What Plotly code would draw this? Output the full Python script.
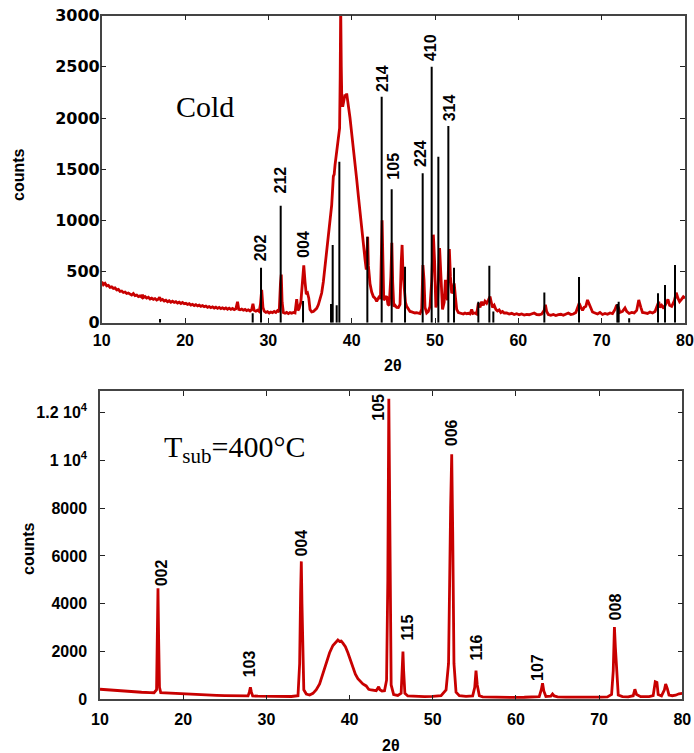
import plotly.graph_objects as go

# ---------------- data: top panel (Cold) ----------------
cold_2theta = [10.0,10.2,10.4,10.6,10.8,11.0,11.2,11.4,11.6,11.8,12.0,12.2,12.4,12.6,12.8,13.0,13.2,13.4,13.6,13.8,
    14.0,14.2,14.4,14.6,14.8,14.9,15.0,15.2,15.4,15.6,15.8,16.0,16.2,16.4,16.6,16.8,16.95,17.1,17.3,17.5,17.7,17.9,
    18.1,18.3,18.5,18.7,18.9,19.1,19.3,19.5,19.7,19.9,20.1,20.3,20.5,20.7,20.9,21.1,21.3,21.5,21.7,21.9,22.1,22.3,
    22.5,22.7,22.9,23.1,23.3,23.5,23.7,23.9,24.1,24.3,24.5,24.7,24.9,25.1,25.3,25.5,25.7,25.9,26.1,26.3,26.45,26.6,
    26.8,27.0,27.2,27.4,27.6,27.8,28.0,28.15,28.3,28.5,28.7,28.9,29.05,29.2,29.35,29.5,29.7,29.9,30.1,30.3,30.5,30.7,
    30.9,31.1,31.3,31.45,31.55,31.65,31.8,32.0,32.2,32.4,32.6,32.8,33.0,33.2,33.4,33.55,33.7,33.9,34.1,34.25,34.4,
    34.55,34.7,34.85,35.0,35.2,35.4,35.6,35.8,36.0,36.2,36.4,36.6,36.8,37.0,37.2,37.4,37.6,37.8,37.9,38.0,38.2,38.4,
    38.55,38.62,38.68,38.75,38.82,38.92,39.05,39.2,39.3,39.4,39.5,39.65,39.8,40.0,40.2,40.4,40.6,40.8,41.0,41.2,41.4,
    41.6,41.75,41.85,41.92,42.0,42.1,42.2,42.4,42.6,42.8,43.0,43.2,43.35,43.45,43.55,43.65,43.75,43.85,44.0,44.2,
    44.35,44.5,44.7,44.82,44.92,45.05,45.2,45.4,45.6,45.8,45.95,46.05,46.15,46.3,46.45,46.6,46.8,47.0,47.2,47.4,
    47.6,47.8,48.0,48.2,48.4,48.55,48.68,48.8,49.0,49.2,49.4,49.6,49.8,49.95,50.1,50.3,50.55,50.7,50.9,51.1,51.25,
    51.4,51.5,51.6,51.72,51.85,52.0,52.15,52.3,52.45,52.6,52.8,53.0,53.2,53.4,53.6,53.8,54.0,54.2,54.4,54.55,54.8,
    55.0,55.2,55.4,55.6,55.8,56.0,56.2,56.4,56.6,56.75,56.9,57.1,57.3,57.5,57.7,57.9,58.1,58.3,58.6,58.9,59.2,59.5,
    59.8,60.1,60.4,60.7,61.0,61.3,61.6,61.9,62.2,62.5,62.8,63.1,63.25,63.4,63.6,63.9,64.2,64.5,64.8,65.1,65.4,65.7,
    66.0,66.3,66.6,66.9,67.1,67.3,67.5,67.7,67.9,68.1,68.3,68.5,68.7,68.9,69.2,69.5,69.8,70.1,70.4,70.7,71.0,71.3,
    71.6,71.8,72.0,72.2,72.5,72.8,73.0,73.3,73.6,73.9,74.2,74.45,74.7,74.9,75.2,75.5,75.8,76.1,76.4,76.6,76.85,77.0,
    77.2,77.45,77.7,77.95,78.15,78.4,78.7,78.95,79.15,79.35,79.6,79.8,80.0]
cold_counts = [400,370,385,360,365,345,350,335,340,320,325,305,310,295,300,285,290,280,270,285,
    265,270,255,262,250,275,245,255,240,248,232,240,228,236,222,230,248,220,228,212,220,205,
    215,200,210,198,205,192,200,188,198,185,190,178,186,172,180,168,176,165,172,160,168,156,
    163,150,158,147,155,143,152,140,150,138,146,135,144,132,142,130,140,128,136,205,130,126,
    133,122,130,118,126,115,128,185,120,112,122,110,180,320,150,112,100,108,95,105,98,110,
    100,118,105,380,470,200,100,92,100,88,98,92,100,95,230,120,140,200,420,560,400,
    280,290,240,130,105,110,125,140,175,230,290,400,545,680,820,940,1150,1430,1450,1540,1660,1760,
    1900,2400,3100,2500,2150,2110,2180,2230,2200,2240,2180,2100,2000,1850,1720,1560,1400,1240,1070,920,780,
    620,520,700,840,560,420,380,300,255,240,210,240,260,230,500,1000,600,220,240,260,
    180,170,450,780,400,160,170,150,148,180,600,760,500,320,200,160,130,110,105,100,
    95,98,95,90,130,564,420,150,95,110,160,400,860,600,150,200,730,450,130,200,420,
    250,220,500,720,450,290,300,385,250,130,100,95,92,85,95,88,92,85,130,90,95,
    85,190,150,205,170,210,190,220,255,200,150,170,130,115,125,100,110,95,95,85,92,80,
    88,78,85,75,82,78,88,95,80,78,85,120,175,110,80,72,80,70,78,82,72,80,
    95,80,85,100,150,190,150,120,150,160,222,180,130,105,95,85,100,80,90,82,95,88,
    130,173,150,100,110,144,110,90,100,95,120,222,150,100,95,90,105,95,110,150,205,150,
    170,140,190,229,170,160,210,293,240,205,230,254,240]

# reference (stick) pattern, top panel
ref_2theta = [17.0,28.12,29.12,31.48,34.16,37.52,37.72,38.2,38.52,41.88,43.6,44.8,46.4,48.52,49.6,50.4,51.6,52.28,
              55.2,56.52,57.0,63.12,67.28,71.88,72.04,73.3,76.76,77.6,78.8]
ref_counts = [35,92,537,1143,212,183,760,170,1573,840,2209,1303,547,1460,2502,1622,1922,537,
              205,557,110,295,447,183,205,43,287,368,564]

cold_hkl = ["202","212","004","214","105","224","410","314"]
cold_hkl_x = [29.0,31.4,34.3,43.72,45.08,48.28,49.48,51.68]
cold_hkl_y = [727,1390,762,2388,1525,1655,2690,2095]

# ---------------- data: bottom panel (Tsub=400°C) ----------------
hot_2theta = [10.0,11,12,13,14,15,16,16.5,16.8,16.9,16.97,17.05,17.15,17.3,18,19,20,21,22,23,24,25,26,27,27.8,27.95,
    28.08,28.2,28.35,29,30,31,32,33,33.8,34.0,34.12,34.2,34.28,34.38,34.5,34.8,35.2,35.6,36.0,36.4,36.8,37.2,37.6,
    38.0,38.4,38.6,38.8,39.0,39.2,39.5,39.8,40.1,40.4,40.7,41.0,41.3,41.6,42.0,42.3,42.6,42.9,43.2,43.5,43.65,43.9,
    44.2,44.45,44.6,44.72,44.8,44.9,45.0,45.3,45.8,46.2,46.35,46.42,46.5,46.65,47,48,49,50,51,51.6,51.9,52.15,52.28,
    52.4,52.55,52.8,53.2,54,54.8,55.05,55.2,55.35,55.6,56,57,58,59,60,61,62,62.8,63.05,63.2,63.35,63.6,64.2,64.4,
    64.6,65,66,67,68,69,70,71,71.5,71.7,71.84,71.95,72.05,72.15,72.3,72.8,73.5,74.1,74.3,74.5,75,76,76.5,76.75,
    76.95,77.1,77.5,77.85,78.0,78.2,78.4,78.8,79.2,79.6,80.0]
hot_counts = [420,390,360,335,315,295,280,275,400,2500,4650,2500,500,280,265,250,225,210,195,180,165,155,145,140,145,300,
    500,300,140,130,120,118,115,118,150,1500,4500,5770,4000,1200,400,220,180,250,400,640,1050,1500,1950,
    2250,2400,2480,2420,2440,2350,2200,1950,1650,1350,1050,860,730,640,560,420,390,370,360,520,400,350,
    360,800,5000,12580,8000,2000,600,200,160,250,1500,2000,1200,250,140,110,110,120,150,390,1500,8000,10250,
    7000,1500,300,150,120,140,500,1200,600,150,100,90,85,80,80,85,90,110,400,670,350,120,130,220,
    140,100,90,85,85,85,90,100,200,1200,3020,2200,1650,700,180,110,100,150,420,200,110,110,150,730,
    700,200,140,400,640,450,180,150,170,230,250]

hot_hkl = ["002","103","004","105","115","006","116","107","008"]
hot_hkl_x = [17.4,28.08,34.28,43.52,46.92,52.28,55.2,62.6,71.92]
hot_hkl_y = [5296,1480,6555,12235,3010,11165,2172,1333,3849]

x_ticks = [10,20,30,40,50,60,70,80]
top_y_ticks = [0,500,1000,1500,2000,2500,3000]
bot_y_ticks = [0,2000,4000,6000,8000,10000,12000]
bot_y_text = ["0","2000","4000","6000","8000","1 10<sup>4</sup>","1.2 10<sup>4</sup>"]

RED = "#c80000"
W, H = 694, 753

# stick segments
sx, sy = [], []
for xv, hv in zip(ref_2theta, ref_counts):
    sx += [xv, xv, None]
    sy += [0, hv, None]

fig = go.Figure()
fig.add_trace(go.Scatter(x=cold_2theta, y=cold_counts, mode="lines", line=dict(color=RED, width=2.8),
                         xaxis="x", yaxis="y", showlegend=False, hoverinfo="skip"))
fig.add_trace(go.Scatter(x=sx, y=sy, mode="lines", line=dict(color="black", width=2),
                         xaxis="x", yaxis="y", showlegend=False, hoverinfo="skip"))
fig.add_trace(go.Scatter(x=hot_2theta, y=hot_counts, mode="lines", line=dict(color=RED, width=2.8),
                         xaxis="x2", yaxis="y2", showlegend=False, hoverinfo="skip"))

axis_common = dict(showline=True, linecolor="#444", linewidth=1.5, mirror="ticks", ticks="inside",
                   ticklen=5, tickwidth=1.2, tickcolor="#222", showgrid=False, zeroline=False,
                   automargin=False)
label_font = dict(family="Liberation Sans, Arial", size=16, color="black", weight="bold")

def px2x(p):
    return p / W

def px2y(p):
    return 1 - p / H

fig.update_layout(
    width=W, height=H, margin=dict(l=0, r=0, t=0, b=0, autoexpand=False),
    plot_bgcolor="white", paper_bgcolor="white",
    xaxis=dict(domain=[px2x(101.7), px2x(685)], range=[10, 80], tickvals=x_ticks, anchor="y",
               tickfont=label_font, ticklabelstandoff=2, **axis_common),
    yaxis=dict(domain=[px2y(322.7), px2y(15.7)], range=[0, 3000], tickvals=top_y_ticks, anchor="x",
               tickfont=dict(family="DejaVu Sans", size=16, color="black", weight="bold"),
               ticklabelstandoff=-3, **axis_common),
    xaxis2=dict(domain=[px2x(100), px2x(682.3)], range=[10, 80], tickvals=x_ticks, anchor="y2",
                tickfont=label_font, ticklabelstandoff=5, **axis_common),
    yaxis2=dict(domain=[px2y(699.3), px2y(391)], range=[0, 12900], tickvals=bot_y_ticks, ticktext=bot_y_text,
                anchor="x2", tickfont=label_font, ticklabelstandoff=8, **axis_common),
)

ann = []
for t, xv, yv in zip(cold_hkl, cold_hkl_x, cold_hkl_y):
    ann.append(dict(text=t, x=xv, y=yv, xref="x", yref="y", textangle=-90, showarrow=False,
                    xanchor="center", yanchor="middle", font=label_font))
for t, xv, yv in zip(hot_hkl, hot_hkl_x, hot_hkl_y):
    ann.append(dict(text=t, x=xv, y=yv, xref="x2", yref="y2", textangle=-90, showarrow=False,
                    xanchor="center", yanchor="middle", font=label_font))
# panel titles
ann.append(dict(text="Cold", x=px2x(205), y=px2y(107), xref="paper", yref="paper", showarrow=False,
                xanchor="center", yanchor="middle",
                font=dict(family="Liberation Serif, Times New Roman", size=30, color="black")))
ann.append(dict(text="T<sub>sub</sub>=400°C", x=px2x(162), y=px2y(449), xref="paper", yref="paper",
                showarrow=False, xanchor="left", yanchor="middle",
                font=dict(family="Liberation Serif, Times New Roman", size=30, color="black")))
# axis titles
for xx, yy in [(18, 175), (28, 549)]:
    ann.append(dict(text="counts", x=px2x(xx), y=px2y(yy), xref="paper", yref="paper", textangle=-90,
                    showarrow=False, xanchor="center", yanchor="middle", font=label_font))
for xx, yy in [(393, 365), (391, 745)]:
    ann.append(dict(text="2θ", x=px2x(xx), y=px2y(yy), xref="paper", yref="paper",
                    showarrow=False, xanchor="center", yanchor="middle", font=label_font))
fig.update_layout(annotations=ann)

fig.write_html("out.html", config={"displayModeBar": False},
               post_script="document.body.style.margin='0';document.body.style.overflow='hidden';")
